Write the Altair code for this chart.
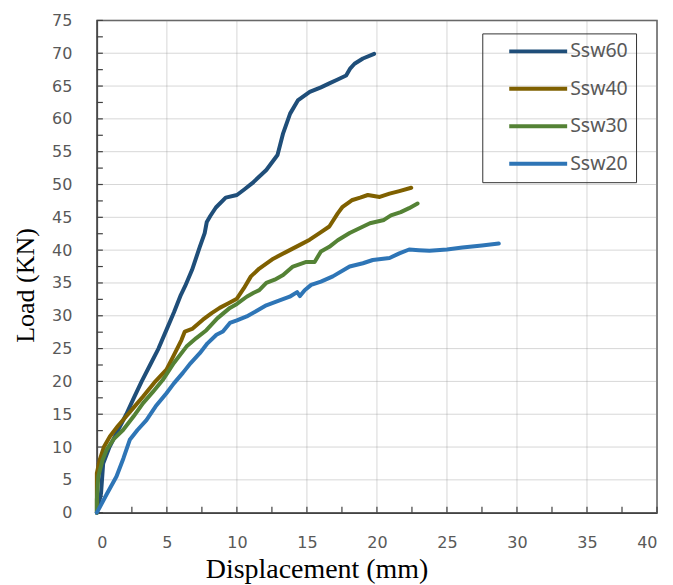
import altair as alt
import pandas as pd

names = ["Ssw60", "Ssw40", "Ssw30", "Ssw20"]
colors = ["#1F4E79", "#7F6000", "#548235", "#2E75B6"]

s60_x = [0, 0.3, 0.45, 0.9, 1.5, 2.1, 2.6, 3.2, 3.8, 4.4, 5.0, 5.5, 6.0, 6.3, 6.8, 7.35, 7.7, 7.85, 8.1, 8.5, 9.2, 10.0, 10.5, 11.1, 12.1, 12.9, 13.3, 13.8, 14.35, 15.2, 16.0, 16.6, 17.2, 17.8, 18.1, 18.4, 19.0, 19.8]
s60_y = [0, 3, 7.5, 10, 12.5, 15, 17.3, 20, 22.5, 25, 28, 30.5, 33.2, 34.5, 37, 40.5, 42.6, 44.3, 45.2, 46.5, 48, 48.4, 49.2, 50.2, 52.2, 54.5, 57.8, 60.8, 62.8, 64.1, 64.8, 65.4, 66.0, 66.6, 67.7, 68.4, 69.2, 69.9]

s40_x = [0, 0, 0.2, 0.5, 0.93, 1.5, 2.1, 2.7, 3.3, 4.1, 4.97, 5.5, 6.04, 6.28, 6.8, 7.57, 8.2, 8.77, 9.4, 10.0, 10.5, 11.0, 11.6, 12.6, 13.5, 14.5, 15.2, 15.9, 16.6, 17.2, 17.55, 18.2, 18.8, 19.35, 20.2, 20.9, 21.6, 22.45]
s40_y = [0, 6, 8, 10, 11.6, 13.2, 14.7, 16.2, 17.7, 19.8, 21.8, 24, 26.3, 27.6, 28, 29.4, 30.4, 31.2, 31.9, 32.6, 34.2, 36.0, 37.2, 38.7, 39.7, 40.8, 41.6, 42.6, 43.6, 45.6, 46.6, 47.6, 48.0, 48.4, 48.1, 48.6, 49.0, 49.5]

s30_x = [0, 0, 0.1, 0.4, 0.7, 1.2, 1.87, 2.6, 3.3, 4.0, 4.7, 5.5, 6.4, 7.1, 7.82, 8.6, 9.5, 10.0, 10.7, 11.2, 11.6, 12.1, 12.7, 13.3, 14.0, 14.96, 15.55, 16.0, 16.6, 17.2, 18.05, 19.5, 20.5, 21.0, 21.7, 22.3, 22.9]
s30_y = [0, 2, 5.5, 8, 9.6, 11.2, 12.6, 14.6, 16.7, 18.4, 20.2, 22.8, 25.3, 26.6, 27.8, 29.6, 31.2, 31.8, 32.9, 33.5, 33.9, 35.0, 35.5, 36.2, 37.5, 38.2, 38.2, 39.8, 40.5, 41.5, 42.6, 44.1, 44.6, 45.3, 45.8, 46.4, 47.1]

s20_x = [0, 0.7, 1.4, 1.9, 2.35, 2.9, 3.54, 4.2, 4.97, 5.5, 6.14, 6.7, 7.35, 7.9, 8.54, 9.0, 9.5, 10.0, 10.7, 11.3, 12.1, 13.0, 13.77, 14.3, 14.5, 14.84, 15.3, 16.0, 16.85, 18.05, 19.0, 19.7, 20.9, 21.6, 22.3, 23.0, 23.75, 25.0, 26.1, 27.5, 28.7]
s20_y = [0, 2.8, 5.5, 8.3, 11.1, 12.6, 14.1, 16.2, 18.2, 19.7, 21.3, 22.8, 24.3, 25.8, 27.1, 27.6, 28.9, 29.3, 29.9, 30.6, 31.6, 32.3, 32.9, 33.6, 33.0, 33.9, 34.7, 35.2, 36.0, 37.5, 38.0, 38.5, 38.8, 39.5, 40.1, 40.0, 39.9, 40.1, 40.4, 40.7, 41.0]

x_major = [0.0, 5.0, 10.0, 15.0, 20.0, 25.0, 30.0, 35.0, 40.0]
y_major = [0.0, 5.0, 10.0, 15.0, 20.0, 25.0, 30.0, 35.0, 40.0, 45.0, 50.0, 55.0, 60.0, 65.0, 70.0, 75.0]
x_minor = [i * 2.5 for i in range(17)]
y_minor = [i * 2.5 for i in range(31)]

rows = []
for name, xs, ys in [("Ssw60", s60_x, s60_y), ("Ssw40", s40_x, s40_y),
                     ("Ssw30", s30_x, s30_y), ("Ssw20", s20_x, s20_y)]:
    for i, (a, b) in enumerate(zip(xs, ys)):
        rows.append({"series": name, "disp": a, "load": b, "order": i})
df = pd.DataFrame(rows)

W, H = 561, 493
x_scale = alt.Scale(domain=[0, 40], nice=False)
y_scale = alt.Scale(domain=[0, 75], nice=False)

label_font = "DejaVu Sans"
title_font = "Liberation Serif"
grid_color = "#8c8c8c"

x_axis = alt.Axis(
    values=x_major, title="Displacement (mm)", grid=False,
    ticks=False, tickSize=0,
    labelPadding=22, labelFont=label_font, labelFontSize=16, labelColor="#595959",
    titleFont=title_font, titleFontSize=28, titleFontWeight="normal", titleColor="#000000",
    titleX=220, titleY=65, titleAlign="center", titleBaseline="alphabetic",
    domainColor="#404040", domainWidth=1.5)
y_axis = alt.Axis(
    values=y_major, title="Load (KN)", grid=False,
    ticks=False, tickSize=0,
    labelPadding=25, labelFont=label_font, labelFontSize=16, labelColor="#595959",
    titleFont=title_font, titleFontSize=26, titleFontWeight="normal", titleColor="#000000",
    titleX=-71, titleY=265, titleAlign="center", titleBaseline="middle", titleAngle=270,
    domainColor="#404040", domainWidth=1.5)

gx = alt.Chart(pd.DataFrame({"disp": x_major})).mark_rule(color=grid_color, strokeWidth=1, opacity=0.35).encode(
    x=alt.X("disp:Q", scale=x_scale, axis=x_axis), y=alt.value(0), y2=alt.value(H))
gy = alt.Chart(pd.DataFrame({"load": y_major})).mark_rule(color=grid_color, strokeWidth=1, opacity=0.35).encode(
    y=alt.Y("load:Q", scale=y_scale, axis=y_axis), x=alt.value(0), x2=alt.value(W))

xt = alt.Chart(pd.DataFrame({"disp": x_minor})).mark_rule(color="#404040", strokeWidth=1.2).encode(
    x=alt.X("disp:Q", scale=x_scale, axis=x_axis), y=alt.value(H), y2=alt.value(H - 6))
yt = alt.Chart(pd.DataFrame({"load": y_minor})).mark_rule(color="#404040", strokeWidth=1.2).encode(
    y=alt.Y("load:Q", scale=y_scale, axis=y_axis), x=alt.value(0), x2=alt.value(6))

lines = alt.Chart(df).mark_line(strokeWidth=4, strokeCap="round", strokeJoin="round").encode(
    x=alt.X("disp:Q", scale=x_scale, axis=x_axis),
    y=alt.Y("load:Q", scale=y_scale, axis=y_axis),
    color=alt.Color("series:N", scale=alt.Scale(domain=names, range=colors), sort=names,
                    legend=alt.Legend(
                        title=None, orient="none", legendX=386, legendY=13,
                        strokeColor="#333333", padding=8,
                        symbolType="stroke", symbolSize=3364, symbolStrokeWidth=4,
                        symbolOffset=17, clipHeight=20, rowPadding=17.5, labelOffset=1,
                        labelFont="Noto Sans", labelFontSize=19.5, labelColor="#595959")),
    order="order:Q",
)

chart = alt.layer(gx, gy, xt, yt, lines).properties(
    width=W, height=H,
    autosize=alt.AutoSizeParams(type="none"),
    padding={"left": 89, "top": 12, "right": 8, "bottom": 72},
).configure_view(stroke="#595959", strokeWidth=1.5)

chart.save("out.html", embed_options={"renderer": "svg", "actions": False})
